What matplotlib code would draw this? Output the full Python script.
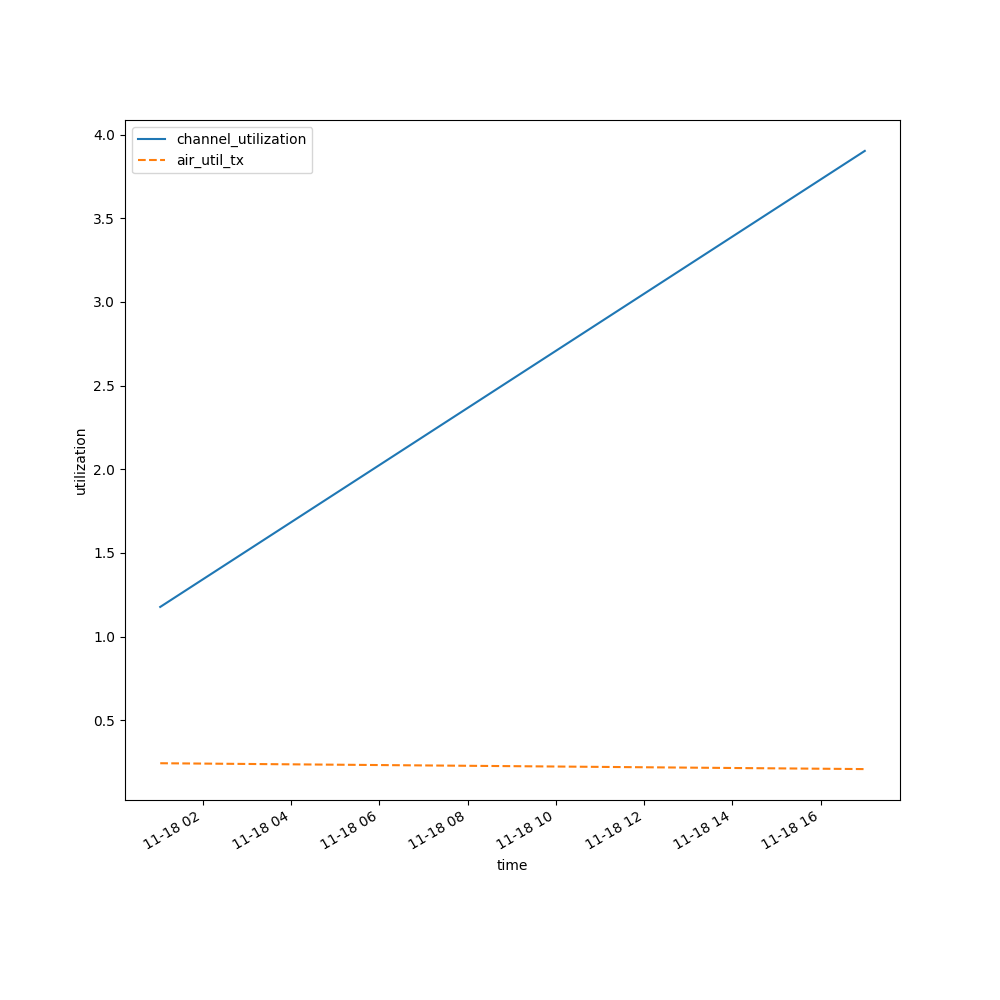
import matplotlib
matplotlib.use("Agg")
import matplotlib.pyplot as plt
import pandas as pd

times = pd.to_datetime(["2024-11-18 01:02", "2024-11-18 17:00"])
channel_utilization = [1.177, 3.902]
air_util_tx = [0.243, 0.208]

fig, ax = plt.subplots(figsize=(10, 10), dpi=100)
ax.plot(times, channel_utilization, label="channel_utilization")
ax.plot(times, air_util_tx, "--", label="air_util_tx")
ax.set_xlabel("time")
ax.set_ylabel("utilization")
ax.legend(loc="upper left")
fig.autofmt_xdate()
plt.savefig("out.png")
